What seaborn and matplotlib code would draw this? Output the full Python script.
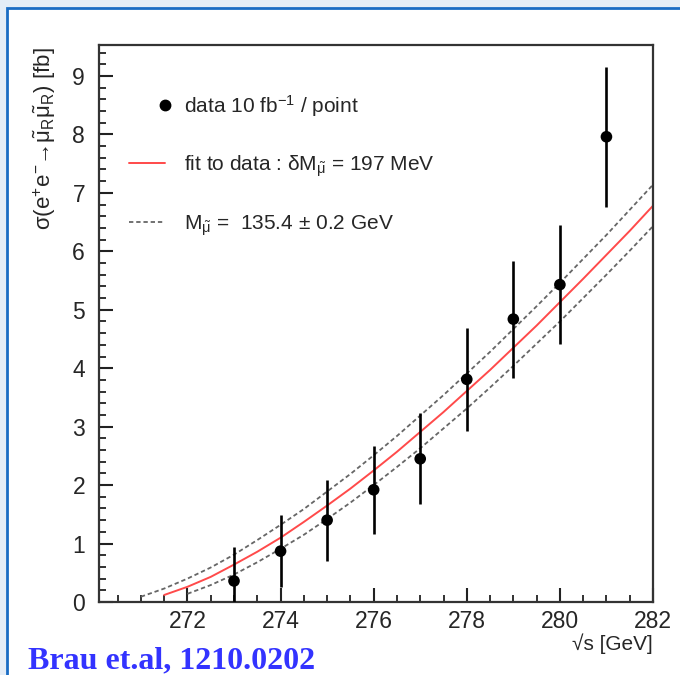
import matplotlib
matplotlib.use("Agg")
import matplotlib.pyplot as plt
from matplotlib.lines import Line2D
from matplotlib.patches import Rectangle
from matplotlib.legend_handler import HandlerLine2D
from matplotlib.ticker import MultipleLocator
import numpy as np
import seaborn as sns
import pandas as pd

# Measured cross sections (one point per 10 fb^-1)
sqrt_s = [273, 274, 275, 276, 277, 278, 279, 280, 281]
sigma = [0.36, 0.87, 1.40, 1.92, 2.45, 3.81, 4.84, 5.43, 7.96]
sigma_err = [0.58, 0.61, 0.69, 0.75, 0.78, 0.88, 1.00, 1.02, 1.20]

# Fitted threshold curve
fit_x = [271.5, 272.0, 272.5, 273.0, 273.5, 274.0, 274.5, 275.0, 275.5, 276.0, 276.5,
         277.0, 277.5, 278.0, 278.5, 279.0, 279.5, 280.0, 280.5, 281.0, 281.5, 282.0]
fit_y = [0.12, 0.26, 0.43, 0.64, 0.86, 1.10, 1.37, 1.65, 1.94, 2.25, 2.57,
         2.91, 3.25, 3.61, 3.97, 4.35, 4.73, 5.13, 5.53, 5.94, 6.35, 6.78]

# Mass band: M - 0.2 GeV (upper) and M + 0.2 GeV (lower)
upper_x = [271.0, 271.5, 272.0, 272.5, 273.0, 273.5, 274.0, 274.5, 275.0, 275.5, 276.0, 276.5,
           277.0, 277.5, 278.0, 278.5, 279.0, 279.5, 280.0, 280.5, 281.0, 281.5, 282.0]
upper_y = [0.09, 0.23, 0.40, 0.59, 0.81, 1.06, 1.32, 1.59, 1.89, 2.19, 2.51, 2.84,
           3.19, 3.54, 3.91, 4.28, 4.67, 5.06, 5.46, 5.87, 6.28, 6.71, 7.14]
lower_x = [272.0, 272.5, 273.0, 273.5, 274.0, 274.5, 275.0, 275.5, 276.0, 276.5,
           277.0, 277.5, 278.0, 278.5, 279.0, 279.5, 280.0, 280.5, 281.0, 281.5, 282.0]
lower_y = [0.14, 0.29, 0.47, 0.68, 0.91, 1.15, 1.42, 1.70, 2.00, 2.31,
           2.63, 2.97, 3.31, 3.67, 4.04, 4.42, 4.80, 5.20, 5.60, 6.01, 6.43]

legend_labels = [
    r"data 10 fb$^{\mathregular{-1}}$ / point",
    r"fit to data : $\mathregular{\delta}$M$_{\tilde{\mu}}$ = 197 MeV",
    r"M$_{\tilde{\mu}}$ =  135.4 $\mathregular{\pm}$ 0.2 GeV",
]
x_title = "√s [GeV]"
y_title = r"σ(e$^{+}$e$^{-}$→$\tilde{\mu}_{\mathregular{R}}\tilde{\mu}_{\mathregular{R}}$) [fb]"
credit = "Brau et.al, 1210.0202"


class RightMarkerHandler(HandlerLine2D):
    """Legend handler that puts the single marker at the right end of the handle."""

    def get_xdata(self, legend, xdescent, ydescent, width, height, fontsize):
        right = -xdescent + width
        return np.array([right - 1.0, right + 1.0]), np.array([right])


sns.set_style("ticks")
plt.rcParams["font.family"] = ["Liberation Sans", "DejaVu Sans"]
plt.rcParams["mathtext.fontset"] = "custom"
plt.rcParams["mathtext.rm"] = "Liberation Sans"
plt.rcParams["mathtext.it"] = "Liberation Sans"
plt.rcParams["mathtext.bf"] = "Liberation Sans:bold"
plt.rcParams["mathtext.sf"] = "Liberation Sans"

fig = plt.figure(figsize=(6.8, 6.75), dpi=100)
fig.patch.set_facecolor("#e4edf7")
# white slide panel with a blue border behind the plot
panel = Rectangle((7 / 680, -0.1), 1.2, 1.1 - 8 / 675,
                  transform=fig.transFigure, facecolor="white",
                  edgecolor="#1a6cc4", linewidth=2.0, zorder=-10)
fig.add_artist(panel)

ax = fig.add_axes([99 / 680, 1 - 602 / 675, 554 / 680, 557 / 675])
ax.set_zorder(1)
ax.set_facecolor("white")

band_color = "#666666"
band_dash = (0, (2.4, 1.6))
sns.lineplot(x=upper_x, y=upper_y, ax=ax, color=band_color, linewidth=1.3, linestyle=band_dash)
sns.lineplot(x=lower_x, y=lower_y, ax=ax, color=band_color, linewidth=1.3, linestyle=band_dash)
sns.lineplot(x=fit_x, y=fit_y, ax=ax, color="#ff4a4a", linewidth=1.4)

df = pd.DataFrame({"sqrt_s": sqrt_s, "sigma": sigma, "err": sigma_err})
ax.errorbar(df["sqrt_s"], df["sigma"], yerr=df["err"], fmt="none",
            ecolor="black", elinewidth=1.9, capsize=0, zorder=3)
sns.scatterplot(data=df, x="sqrt_s", y="sigma", ax=ax, color="black",
                s=70, edgecolor="none", zorder=4)

ax.set_xlim(270.1, 282)
ax.set_ylim(0, 9.53)
ax.xaxis.set_major_locator(MultipleLocator(2))
ax.xaxis.set_minor_locator(MultipleLocator(0.5))
ax.yaxis.set_major_locator(MultipleLocator(1))
ax.yaxis.set_minor_locator(MultipleLocator(0.2))
ax.tick_params(axis="both", which="both", direction="in", color="#222222",
               top=False, right=False)
ax.tick_params(axis="both", which="major", length=10, width=1.5, labelsize=16.5)
ax.tick_params(axis="both", which="minor", length=5, width=1.3)
ax.tick_params(axis="x", which="major", pad=6)
ax.tick_params(axis="y", which="major", pad=10)
for side in ax.spines.values():
    side.set_linewidth(1.6)
    side.set_color("#333333")

ax.set_xlabel(x_title, fontsize=15, loc="right", labelpad=0)
ax.set_ylabel(y_title, fontsize=16, loc="top", labelpad=0)
ax.yaxis.set_label_coords(-0.074, 0.995)
ax.xaxis.set_label_coords(1.0, -0.056)

marker_handle = Line2D([], [], marker="o", color="black", linestyle="none",
                       markersize=7.5)
handles = [
    marker_handle,
    Line2D([], [], color="#ff4a4a", linewidth=1.4),
    Line2D([], [], color=band_color, linewidth=1.3, linestyle=band_dash),
]
ax.legend(handles, legend_labels, loc="upper left", bbox_to_anchor=(0.054, 0.914),
          frameon=False, fontsize=15, handlelength=1.75, handletextpad=0.9,
          labelspacing=1.65, borderpad=0, borderaxespad=0,
          handler_map={marker_handle: RightMarkerHandler()})

fig.text(28 / 680, 1 - 668 / 675, credit, fontsize=23, fontweight="bold",
         family="Liberation Serif", color="#3333ff", ha="left", va="baseline")

fig.savefig("out.png", dpi=100, facecolor=fig.get_facecolor())
